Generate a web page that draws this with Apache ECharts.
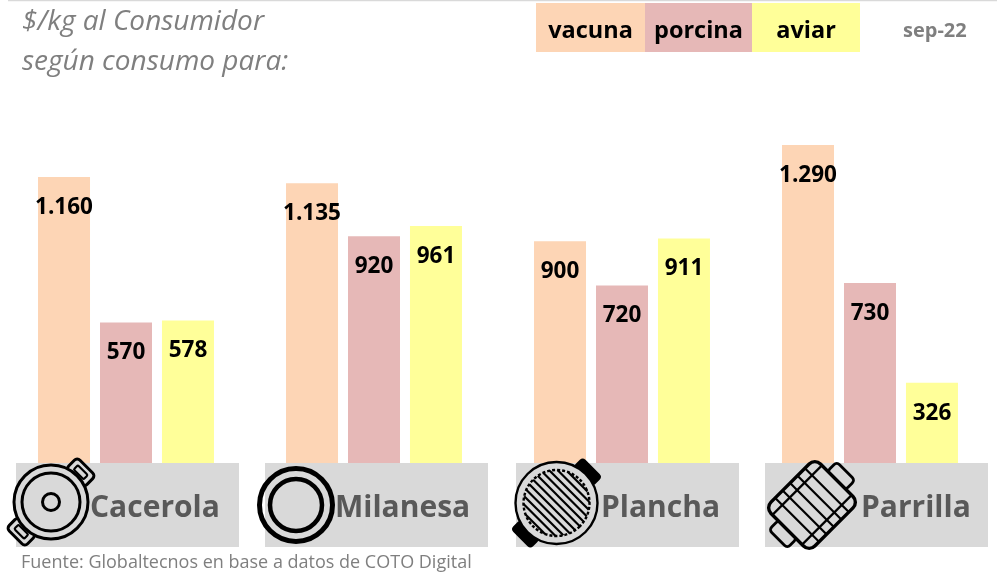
<!DOCTYPE html>
<html>
<head>
<meta charset="utf-8">
<style>
  html, body { margin: 0; padding: 0; background: #fff; }
  #main { width: 997px; height: 573px; }
</style>
<script src="https://cdn.jsdelivr.net/npm/echarts@6/dist/echarts.min.js"></script>
</head>
<body>
<div id="main"></div>
<script>
  var categories = ['Cacerola', 'Milanesa', 'Plancha', 'Parrilla']
  var vacuna = [1160, 1135, 900, 1290]
  var porcina = [570, 920, 720, 730]
  var aviar = [578, 961, 911, 326]
  var legendNames = ['vacuna', 'porcina', 'aviar']
  var legendColors = ['#fdd5b5', '#e6b8b7', '#ffff99']

  var FONT = '"Open Sans", sans-serif'
  var PI = Math.PI
  var ICON_Z = 10

  // separador de miles con punto
  function fmt(p) {
    return String(p.value).replace(/\B(?=(\d{3})+$)/g, '.')
  }

  function barSeries(name, data, color) {
    return {
      name: name,
      type: 'bar',
      barWidth: 52,
      barGap: '19.2%',
      itemStyle: { color: color },
      label: {
        show: true,
        position: 'insideTop',
        distance: 19,
        formatter: fmt,
        color: '#000',
        fontFamily: FONT,
        fontWeight: 'bold',
        fontSize: 22.5
      },
      data: data
    }
  }

  function txt(x, y, text, size, color, weight, style, align) {
    return {
      type: 'text', x: x, y: y, z: 10,
      style: {
        text: text, fontFamily: FONT, fontSize: size, fill: color,
        fontWeight: weight || 'normal', fontStyle: style || 'normal',
        textAlign: align || 'left', textVerticalAlign: 'middle'
      }
    }
  }

  function ring(r, w, fill, dash) {
    return {
      type: 'circle', z: ICON_Z, shape: { cx: 0, cy: 0, r: r },
      style: { fill: fill || 'none', stroke: '#000', lineWidth: w, lineDash: dash || null }
    }
  }
  function box(x, y, w, h, r, lw, fill) {
    return {
      type: 'rect', z: ICON_Z, shape: { x: x, y: y, width: w, height: h, r: r },
      style: { fill: fill || 'none', stroke: '#000', lineWidth: lw }
    }
  }
  function seg(x1, y1, x2, y2, w) {
    return {
      type: 'line', z: ICON_Z, shape: { x1: x1, y1: y1, x2: x2, y2: y2 },
      style: { stroke: '#000', lineWidth: w }
    }
  }

  // iconos
  function iconCacerola() {
    return {
      type: 'group', x: 51, y: 502, rotation: -PI / 4,
      children: [
        box(-13, -50, 26, 16, 4, 3, '#d9d9d9'), box(-7, -45, 14, 6, 1.5, 2.2),
        box(-13, 34, 26, 16, 4, 3, '#d9d9d9'), box(-7, 39, 14, 6, 1.5, 2.2),
        ring(37, 3, '#d9d9d9'),
        ring(29, 3), ring(8.5, 3)
      ]
    }
  }
  function iconMilanesa() {
    return { type: 'group', x: 296, y: 505, children: [ring(36.5, 5), ring(26, 4.5)] }
  }
  function iconPlancha() {
    var kids = [
      box(-13, -50, 26, 12, 3, 2, '#000'),
      box(-13, 38, 26, 12, 3, 2, '#000'),
      ring(41, 2.4, '#d9d9d9'),
      ring(33, 2.4, null, [3, 2])
    ]
    var offs = [-30, -24, -18, -12, -6, 0, 6, 12, 18, 24, 30]
    offs.forEach(function (o) {
      var half = Math.sqrt(33 * 33 - o * o)
      kids.push(seg(-half, o, half, o, 2.2))
    })
    return { type: 'group', x: 556.5, y: 503, rotation: -PI / 4, children: kids }
  }
  function iconParrilla() {
    var kids = [
      box(-13, -48, 26, 14, 4, 2.8),
      box(-13, 34, 26, 14, 4, 2.8),
      box(-31, -35, 62, 70, 8, 3.4, '#d9d9d9')
    ]
    ;[-21, -10.5, 0, 10.5, 21].forEach(function (o) { kids.push(seg(-31, o, 31, o, 2.2)) })
    ;[-21, 21].forEach(function (o) { kids.push(seg(o, -35, o, 35, 2.2)) })
    return { type: 'group', x: 812, y: 505, rotation: -PI / 4, children: kids }
  }

  var graphics = [
    { type: 'line', z: 1, shape: { x1: 8, y1: 0.5, x2: 997, y2: 0.5 }, style: { stroke: '#d9d9d9', lineWidth: 1.5 } },
    txt(22, 22, '$/kg al Consumidor', 28, '#7f7f7f', 'normal', 'italic'),
    txt(22, 62, 'según consumo para:', 28, '#7f7f7f', 'normal', 'italic'),
    txt(903, 31, 'sep-22', 20, '#7f7f7f', 'bold'),
    txt(21, 563, 'Fuente: Globaltecnos en base a datos de COTO Digital', 18, '#7f7f7f')
  ]

  var legendX = [536, 645, 752, 860]
  legendNames.forEach(function (n, i) {
    graphics.push({ type: 'rect', z: 5, shape: { x: legendX[i], y: 3, width: legendX[i + 1] - legendX[i], height: 49 }, style: { fill: legendColors[i] } })
    graphics.push(txt((legendX[i] + legendX[i + 1]) / 2, 31, n, 23.5, '#000', 'bold', 'normal', 'center'))
  })

  var boxX = [16, 265, 516, 765]
  var labelX = [90, 335, 601, 861]
  categories.forEach(function (c, i) {
    graphics.push({ type: 'rect', z: 5, shape: { x: boxX[i], y: 463, width: 223, height: 84 }, style: { fill: '#d9d9d9' } })
    graphics.push(txt(labelX[i], 508, c, 30, '#595959', 'bold'))
  })
  graphics.push(iconCacerola(), iconMilanesa(), iconPlancha(), iconParrilla())

  var myChart = echarts.init(document.getElementById('main'), null, { renderer: 'canvas' })
  myChart.setOption({
    animation: false,
    grid: { left: 2, right: 3, top: 145, bottom: 110 },
    xAxis: {
      type: 'category',
      data: categories,
      axisLine: { show: false },
      axisTick: { show: false },
      axisLabel: { show: false }
    },
    yAxis: { type: 'value', min: 0, max: 1290, show: false },
    series: [
      barSeries(legendNames[0], vacuna, legendColors[0]),
      barSeries(legendNames[1], porcina, legendColors[1]),
      barSeries(legendNames[2], aviar, legendColors[2])
    ],
    graphic: graphics
  })
</script>
</body>
</html>
